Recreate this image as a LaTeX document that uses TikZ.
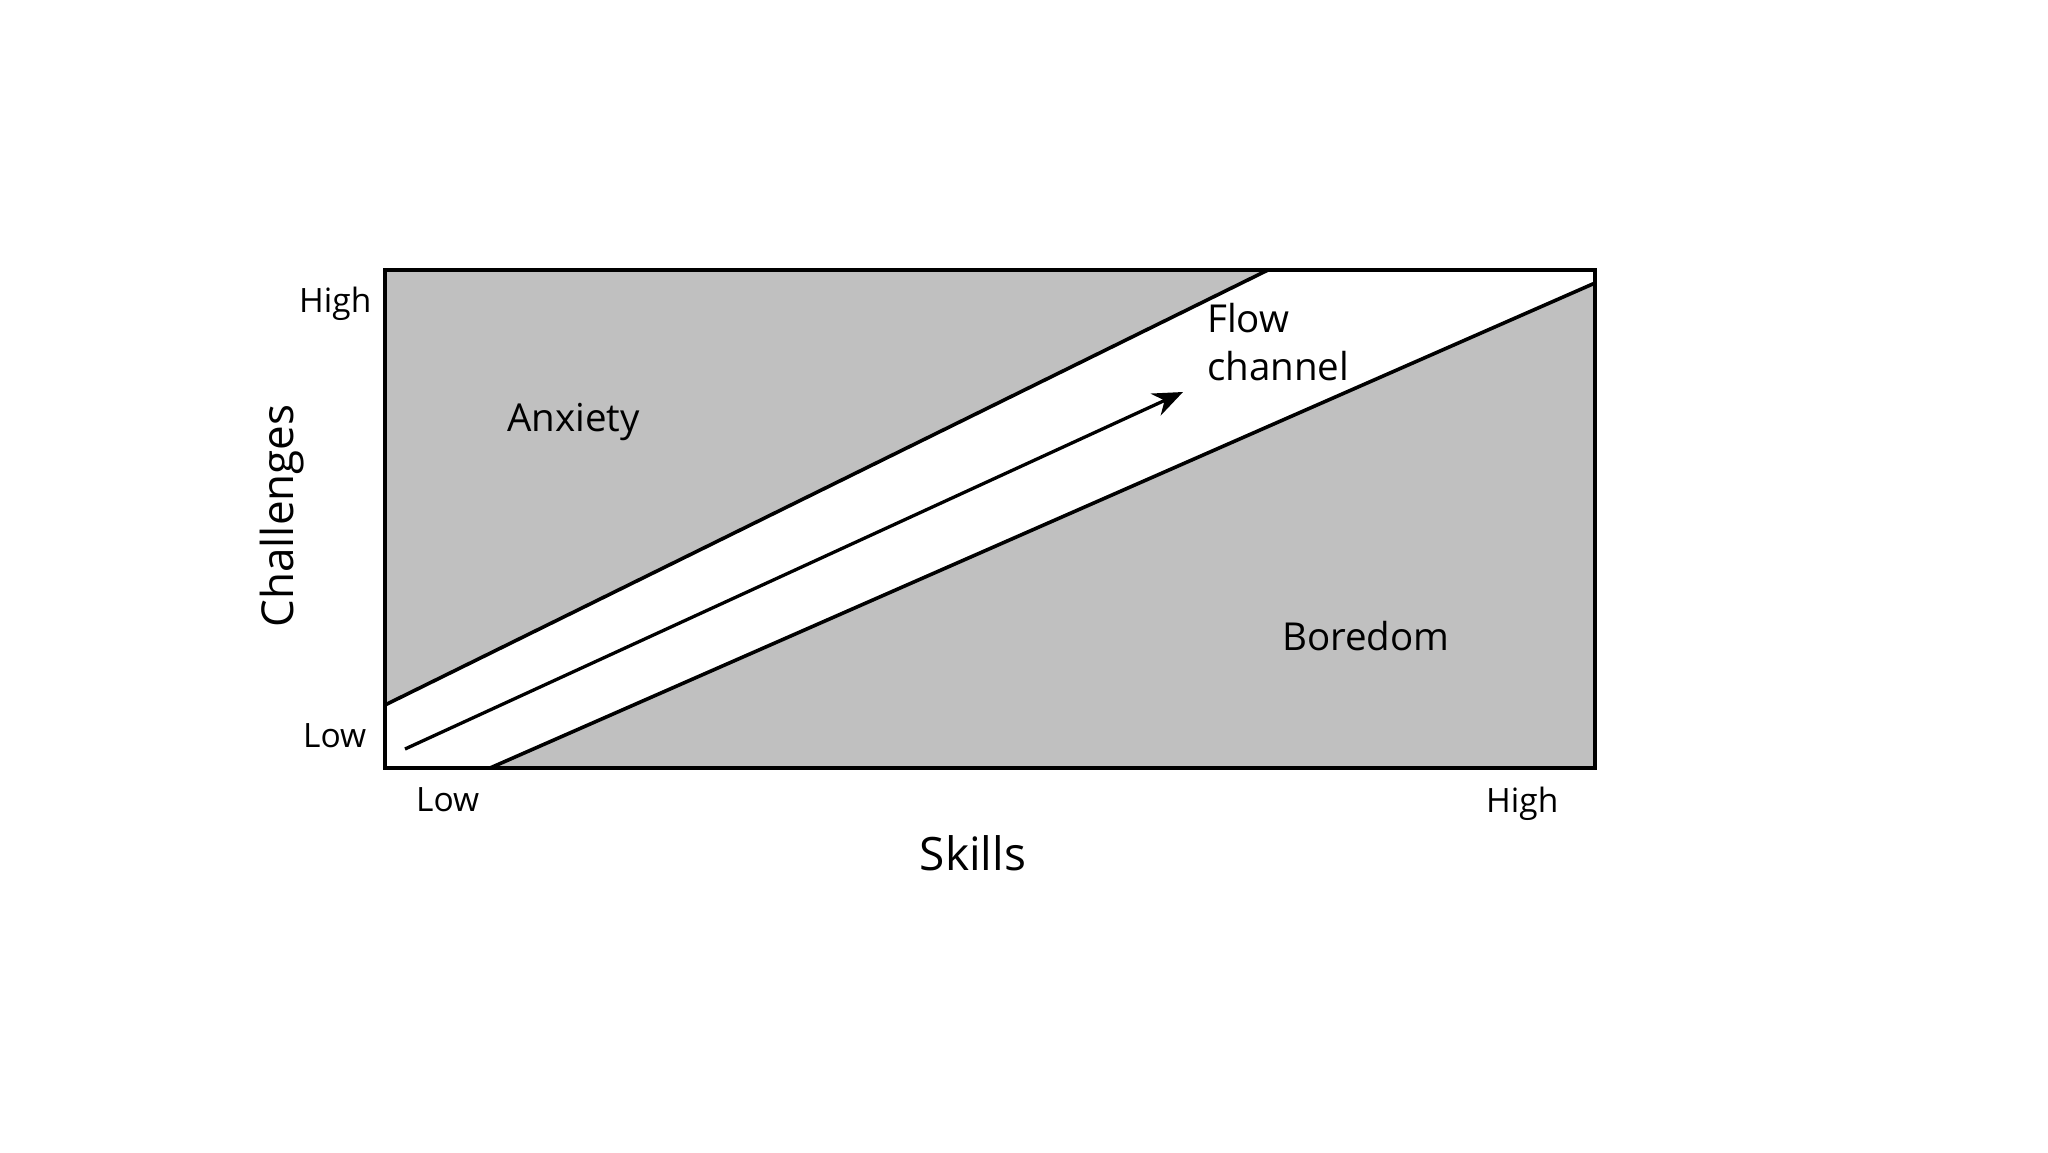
\documentclass[tikz,border=0pt]{standalone}
\usepackage{fontspec}
\setmainfont{Open Sans}
\usetikzlibrary{arrows.meta}
\definecolor{zonegray}{RGB}{192,192,192}
\begin{document}
\begin{tikzpicture}[x=1pt,y=-1pt,
  zone/.style={fill=zonegray,draw=black,line width=3.6pt},
  frame/.style={draw=black,line width=3.8pt},
  tick/.style={anchor=base west,inner sep=0pt,font=\fontsize{33.5}{40}\selectfont},
  region/.style={anchor=base west,inner sep=0pt,font=\fontsize{38.5}{46}\selectfont},
  axis/.style={inner sep=0pt,font=\fontsize{46}{56}\selectfont},
  flowarrow/.style={draw=black,line width=3.3pt,-{Stealth[length=30pt,width=24pt]}}]
\useasboundingbox (0,0) rectangle (2048,1152);
\fill[white] (0,0) rectangle (2048,1152);
% regions
\draw[zone] (385,270) -- (1268,270) -- (385,705) -- cycle;
\draw[zone] (490,768) -- (1595,283) -- (1595,768) -- cycle;
\draw[frame] (385,270) rectangle (1595,768);
% flow arrow
\coordinate (fstart) at (405,749);
\coordinate (fend) at (1183,392);
\draw[flowarrow] (fstart) -- (fend);
% labels
\node[tick] (yhigh) at (299,312) {High};
\node[tick] (ylow) at (303,747) {Low};
\node[tick] (xlow) at (416,811) {Low};
\node[tick] (xhigh) at (1486,812) {High};
\node[region] (anx) at (507,431) {Anxiety};
\node[region] (bor) at (1282,650) {Boredom};
\node[region] (flow1) at (1207,332) {Flow};
\node[region] (flow2) at (1207,380) {channel};
\node[axis,anchor=base] (skills) at (973,870) {Skills};
\node[axis,anchor=base,rotate=90,font=\fontsize{44}{56}\selectfont] (chal) at (293,516) {Challenges};
\end{tikzpicture}
\end{document}
